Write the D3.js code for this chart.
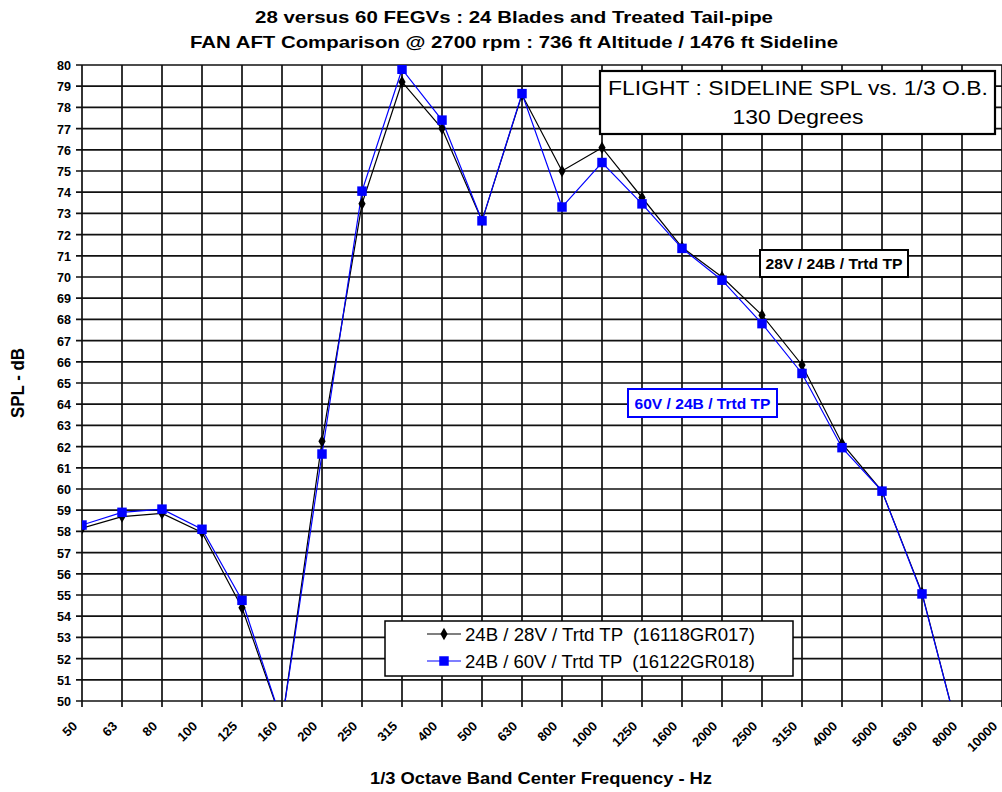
<!DOCTYPE html>
<html>
<head>
<meta charset="utf-8">
<script src="https://cdn.jsdelivr.net/npm/d3@7"></script>
<style>
  html, body { margin: 0; padding: 0; background: #fff; }
  svg { display: block; font-family: "Liberation Sans", Arial, sans-serif; }
</style>
</head>
<body>
<svg id="chart" width="1002" height="792"></svg>
<script>
// 1/3 octave band centre frequencies (Hz)
const bands = ["50","63","80","100","125","160","200","250","315","400","500","630","800",
  "1000","1250","1600","2000","2500","3150","4000","5000","6300","8000","10000"];

// SPL (dB) per band, 50 Hz .. 8000 Hz
const spl28V = [58.15, 58.7, 58.85, 57.95, 54.4, 49.0, 62.25, 73.45, 79.2, 77.0, 72.65, 78.6,
  75.0, 76.1, 73.75, 71.4, 70.0, 68.2, 65.85, 62.15, 59.9, 55.1, 47.8];
const spl60V = [58.3, 58.9, 59.05, 58.1, 54.75, 49.0, 61.65, 74.05, 79.8, 77.4, 72.65, 78.65,
  73.3, 75.4, 73.45, 71.35, 69.85, 67.8, 65.45, 61.95, 59.9, 55.05, 47.8];

const yTicks = d3.range(50, 81, 1);

const titleLines = [
  "28 versus 60 FEGVs : 24 Blades and Treated Tail-pipe",
  "FAN AFT Comparison @ 2700 rpm : 736 ft Altitude / 1476 ft Sideline"
];
const legendLabels = ["24B / 28V / Trtd TP  (16118GR017)", "24B / 60V / Trtd TP  (16122GR018)"];

const svg = d3.select("#chart");
const plot = { left: 82, right: 1002, top: 65, bottom: 701 };

const x = d3.scalePoint().domain(bands).range([plot.left, plot.right]);
const y = d3.scaleLinear().domain([50, 80]).range([plot.bottom, plot.top]);

// Titles
const titleWidths = [518, 648];
svg.selectAll("text.title").data(titleLines).join("text")
  .attr("class", "title")
  .attr("x", 514).attr("y", (d, i) => 23 + i * 25)
  .attr("text-anchor", "middle")
  .attr("font-size", 17).attr("font-weight", "bold")
  .attr("textLength", (d, i) => titleWidths[i]).attr("lengthAdjust", "spacingAndGlyphs")
  .text(d => d);

// Grid
const grid = svg.append("g").attr("stroke", "#111").attr("stroke-width", 1.7);
grid.selectAll("line.h").data(yTicks).join("line")
  .attr("x1", plot.left - 6).attr("x2", plot.right)
  .attr("y1", d => y(d)).attr("y2", d => y(d));
grid.selectAll("line.v").data(bands).join("line")
  .attr("x1", d => x(d)).attr("x2", d => x(d))
  .attr("y1", plot.top).attr("y2", plot.bottom + 6);

// Y axis labels
svg.append("g").selectAll("text").data(yTicks).join("text")
  .attr("x", 71).attr("y", d => y(d) + 5)
  .attr("text-anchor", "end")
  .attr("font-size", 13).attr("font-weight", "bold")
  .attr("textLength", 14).attr("lengthAdjust", "spacingAndGlyphs")
  .text(d => d);

// X axis labels (rotated)
svg.append("g").selectAll("text").data(bands).join("text")
  .attr("text-anchor", "end")
  .attr("font-size", 13).attr("font-weight", "bold")
  .attr("transform", d => `translate(${x(d) - 4},${plot.bottom + 26}) rotate(-45)`)
  .text(d => d);

// Axis titles
svg.append("text")
  .attr("transform", `translate(24,383) rotate(-90)`)
  .attr("text-anchor", "middle")
  .attr("font-size", 18).attr("font-weight", "bold")
  .attr("textLength", 70).attr("lengthAdjust", "spacingAndGlyphs")
  .text("SPL - dB");
svg.append("text")
  .attr("x", 541).attr("y", 784)
  .attr("text-anchor", "middle")
  .attr("font-size", 17).attr("font-weight", "bold")
  .attr("textLength", 342).attr("lengthAdjust", "spacingAndGlyphs")
  .text("1/3 Octave Band Center Frequency - Hz");

// Series
svg.append("clipPath").attr("id", "plotClip").append("rect")
  .attr("x", plot.left).attr("y", plot.top)
  .attr("width", plot.right - plot.left).attr("height", plot.bottom - plot.top);

const line = d3.line().x((d, i) => x(bands[i])).y(d => y(d));
const series = [
  { values: spl28V, color: "#000", symbol: d3.symbolDiamond, size: 45 },
  { values: spl60V, color: "#0000ff", symbol: d3.symbolSquare, size: 90 }
];
const g = svg.append("g").attr("clip-path", "url(#plotClip)");
series.forEach(s => {
  g.append("path").datum(s.values)
    .attr("fill", "none").attr("stroke", s.color).attr("stroke-width", 1.2)
    .attr("d", line);
});
series.forEach(s => {
  g.selectAll(null).data(s.values.map((v, i) => [bands[i], v]).filter(d => d[1] >= 50)).join("path")
    .attr("transform", d => `translate(${x(d[0])},${y(d[1])})`)
    .attr("d", d3.symbol().type(s.symbol).size(s.size))
    .attr("fill", s.color);
});

// Header box
svg.append("rect").attr("x", 600).attr("y", 71).attr("width", 395).attr("height", 63)
  .attr("fill", "#fff").attr("stroke", "#000").attr("stroke-width", 2.2);
svg.append("text").attr("x", 798).attr("y", 95).attr("text-anchor", "middle")
  .attr("font-size", 21).attr("textLength", 380).attr("lengthAdjust", "spacingAndGlyphs")
  .text("FLIGHT : SIDELINE SPL vs. 1/3 O.B.");
svg.append("text").attr("x", 798).attr("y", 124).attr("text-anchor", "middle")
  .attr("font-size", 21).attr("textLength", 131).attr("lengthAdjust", "spacingAndGlyphs")
  .text("130 Degrees");

// Series annotation labels
const notes = [
  { text: "28V / 24B / Trtd TP", x: 760, y: 250, w: 148, h: 27, tw: 137, color: "#000" },
  { text: "60V / 24B / Trtd TP", x: 628, y: 389, w: 149, h: 28, tw: 136, color: "#0000ff" }
];
notes.forEach(n => {
  svg.append("rect").attr("x", n.x).attr("y", n.y).attr("width", n.w).attr("height", n.h)
    .attr("fill", "#fff").attr("stroke", n.color).attr("stroke-width", 2);
  svg.append("text").attr("x", n.x + n.w / 2).attr("y", n.y + n.h / 2 + 5.5)
    .attr("text-anchor", "middle").attr("font-size", 15).attr("font-weight", "bold")
    .attr("textLength", n.tw).attr("lengthAdjust", "spacingAndGlyphs")
    .attr("fill", n.color).text(n.text);
});

// Legend
const lg = svg.append("g");
lg.append("rect").attr("x", 385).attr("y", 621).attr("width", 408).attr("height", 55)
  .attr("fill", "#fff").attr("stroke", "#000").attr("stroke-width", 1.5);
series.forEach((s, i) => {
  const ly = 634 + i * 27;
  lg.append("line").attr("x1", 427).attr("x2", 461).attr("y1", ly).attr("y2", ly)
    .attr("stroke", s.color).attr("stroke-width", 1.2);
  lg.append("path").attr("transform", `translate(444,${ly})`)
    .attr("d", d3.symbol().type(s.symbol).size(s.size)).attr("fill", s.color);
  lg.append("text").attr("x", 465).attr("y", ly + 6.5).attr("font-size", 18)
    .attr("textLength", 290).attr("lengthAdjust", "spacingAndGlyphs")
    .style("white-space", "pre")
    .text(legendLabels[i]);
});
</script>
</body>
</html>
